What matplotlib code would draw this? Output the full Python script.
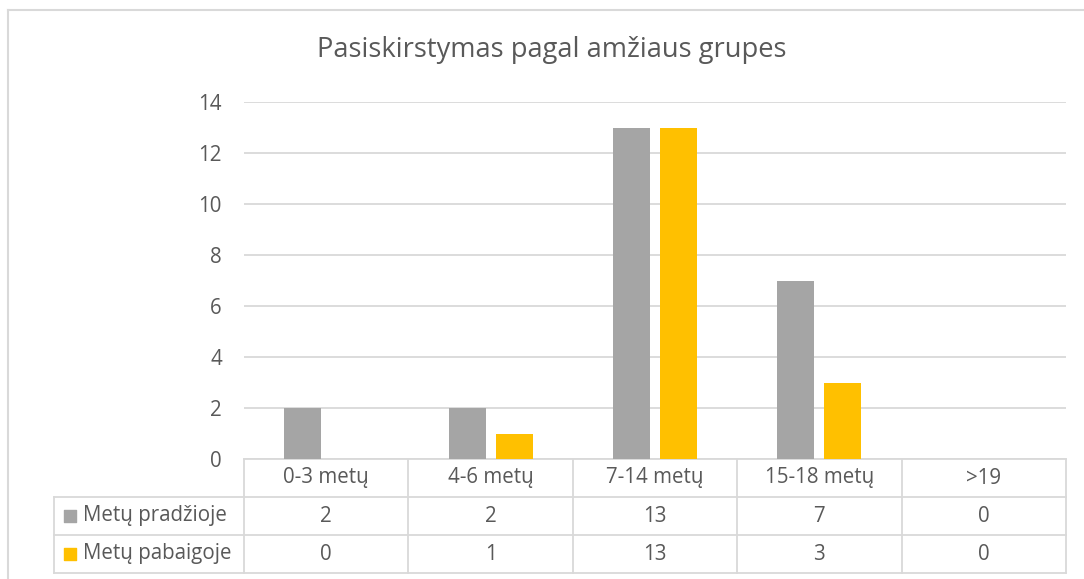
import numpy as np
import matplotlib
matplotlib.use('Agg')
import matplotlib.pyplot as plt
import matplotlib.transforms as mtransforms
from matplotlib.lines import Line2D

categories = ['0-3 metų', '4-6 metų', '7-14 metų', '15-18 metų', '>19']
series_names = ['Metų pradžioje', 'Metų pabaigoje']
start_vals = [2, 2, 13, 7, 0]
end_vals = [0, 1, 13, 3, 0]
yticks = [0, 2, 4, 6, 8, 10, 12, 14]

gray = '#A5A5A5'
yellow = '#FFC000'
txt = '#595959'
line_c = '#D9D9D9'
fs = 14.8

plt.rcParams['font.family'] = ['Open Sans', 'DejaVu Sans']

W, H = 1084, 579
fig = plt.figure(figsize=(W / 100, H / 100), dpi=100)
ax = fig.add_axes([244 / W, (H - 459) / H, 822 / W, 357 / H])

x = np.arange(len(categories))
bw = 0.225
off = 0.143
ax.bar(x - off, start_vals, bw, color=gray, zorder=3)
ax.bar(x + off, end_vals, bw, color=yellow, zorder=3)

ax.set_xlim(-0.5, len(categories) - 0.5)
ax.set_ylim(0, 14)
ax.set_yticks(yticks)
ax.set_xticks([])
ax.tick_params(axis='y', length=0, pad=16, labelsize=fs, labelcolor=txt)
ax.yaxis.grid(True, color=line_c, linewidth=1.3, zorder=0)
for s in ax.spines.values():
    s.set_visible(False)

fig.text(552 / W, 1 - 50 / H, 'Pasiskirstymas pagal amžiaus grupes',
         fontsize=19.6, color=txt, ha='center', va='center')

# data table under the axis
tr = mtransforms.blended_transform_factory(ax.transData, ax.transAxes)
row_h = 38 / 357
left = -0.5 - (244 - 54) / 164.4
right = len(categories) - 0.5
n_rows = len(series_names)

ax.plot([-0.5, right], [0, 0], color=line_c, lw=1.3, transform=tr, clip_on=False)
for r in range(1, n_rows + 2):
    ax.plot([left, right], [-r * row_h] * 2, color=line_c, lw=1.3,
            transform=tr, clip_on=False)
for i in range(len(categories) + 1):
    ax.plot([i - 0.5] * 2, [0, -(n_rows + 1) * row_h], color=line_c, lw=1.3,
            transform=tr, clip_on=False)
ax.plot([left] * 2, [-row_h, -(n_rows + 1) * row_h], color=line_c, lw=1.3,
        transform=tr, clip_on=False)

for i, c in enumerate(categories):
    ax.text(i, -0.5 * row_h, c, ha='center', va='center', fontsize=fs,
            color=txt, transform=tr)

rows = [start_vals, end_vals]
colors = [gray, yellow]
for r, (name, vals, col) in enumerate(zip(series_names, rows, colors)):
    yc = -(r + 1.5) * row_h
    ax.scatter([left + (70 - 54) / 164.4], [yc], marker='s', s=85, color=col,
               transform=tr, clip_on=False)
    ax.text(left + (83 - 54) / 164.4, yc, name, ha='left', va='center',
            fontsize=fs, color=txt, transform=tr)
    for i, v in enumerate(vals):
        ax.text(i, yc, str(v), ha='center', va='center', fontsize=fs,
                color=txt, transform=tr)

# outer chart border
fig.add_artist(Line2D([8 / W, 8 / W], [0, 1 - 10 / H], color=line_c, lw=1.5))
fig.add_artist(Line2D([8 / W, 1], [1 - 10 / H, 1 - 10 / H], color=line_c, lw=1.5))

fig.savefig('out.png', dpi=100)
